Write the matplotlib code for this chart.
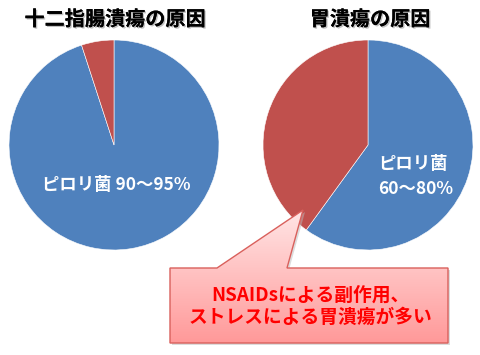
import numpy as np
import matplotlib.pyplot as plt
from matplotlib.path import Path
from matplotlib.patches import PathPatch
import matplotlib.patheffects as pe

plt.rcParams['font.family'] = ['Noto Sans CJK JP', 'DejaVu Sans']

# data
titles = ['十二指腸潰瘍の原因', '胃潰瘍の原因']
duodenal = [95, 5]     # ピロリ菌, その他
gastric = [60, 40]
colors = ['#4F81BD', '#C0504D']
W, H = 480, 355

fig = plt.figure(figsize=(4.8, 3.55), dpi=100)

def pie_ax(cx, cy, r):
    return fig.add_axes([(cx - r) / W, (H - cy - r) / H, 2 * r / W, 2 * r / H])

shadow = [pe.withSimplePatchShadow(offset=(1, -1), shadow_rgbFace='#999999', alpha=0.6), pe.Normal()]

ax1 = pie_ax(114, 145, 105)
ax1.pie(duodenal, colors=colors, startangle=90, counterclock=False,
        wedgeprops=dict(edgecolor='white', linewidth=0.4))
ax1.set_xlim(-1, 1); ax1.set_ylim(-1, 1)
ax1.text(0.02, -0.38, 'ピロリ菌 90～95%', color='white', fontsize=12.5,
         fontweight='bold', ha='center', va='center')

ax2 = pie_ax(368, 145, 105)
ax2.pie(gastric, colors=colors, startangle=90, counterclock=False,
        wedgeprops=dict(edgecolor='white', linewidth=0.4))
ax2.set_xlim(-1, 1); ax2.set_ylim(-1, 1)
ax2.text(0.1, -0.3, 'ピロリ菌\n60～80%', color='white', fontsize=12.5,
         fontweight='bold', ha='left', va='center', linespacing=1.45)

fig.text(115 / W, 1 - 19 / H, titles[0], fontsize=14.5, fontweight='bold',
         ha='center', va='center', path_effects=shadow)
fig.text(370 / W, 1 - 19 / H, titles[1], fontsize=14.5, fontweight='bold',
         ha='center', va='center', path_effects=shadow)

# callout box in pixel coordinates
ov = fig.add_axes([0, 0, 1, 1], zorder=5)
ov.set_xlim(0, W); ov.set_ylim(H, 0)
ov.axis('off')
verts = [(170, 268), (217, 268), (303, 210), (287, 268), (448, 268),
         (448, 343), (170, 343), (170, 268)]
codes = [Path.MOVETO] + [Path.LINETO] * 6 + [Path.CLOSEPOLY]
path = Path(verts, codes)
sh = PathPatch(Path([(x + 2, y + 2) for x, y in verts], codes), facecolor='#bbbbbb',
               edgecolor='none', alpha=0.5)
ov.add_patch(sh)
grad = np.linspace(0, 1, 256).reshape(-1, 1)
top = np.array([1.0, 0.90, 0.90])
bot = np.array([1.0, 0.60, 0.60])
img = top + (bot - top) * grad[..., None]
im = ov.imshow(img, extent=[170, 448, 343, 210], aspect='auto', zorder=2)
clip = PathPatch(path, facecolor='none', edgecolor='none')
ov.add_patch(clip)
im.set_clip_path(clip)
ov.add_patch(PathPatch(path, facecolor='none', edgecolor='#D9605C', linewidth=1, zorder=3))
ov.set_xlim(0, W); ov.set_ylim(H, 0)
ov.text(310, 306, 'NSAIDsによる副作用、\nストレスによる胃潰瘍が多い', color='#FF0000',
        fontsize=13.5, fontweight='bold', ha='center', va='center', linespacing=1.2, zorder=4)

fig.savefig('out.png', dpi=100)
